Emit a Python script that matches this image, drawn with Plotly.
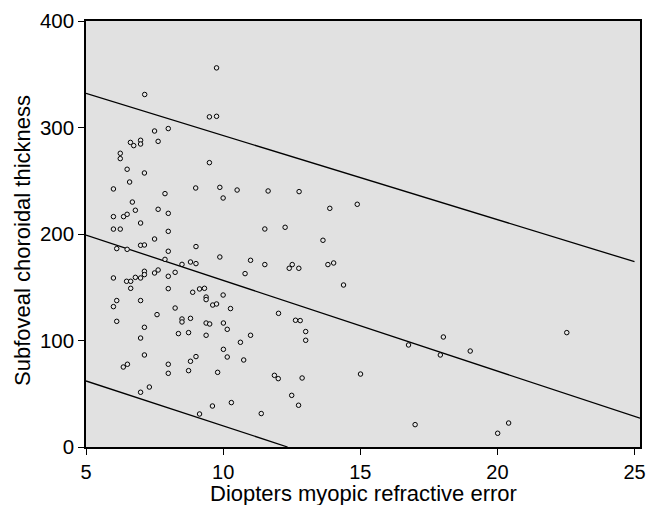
import plotly.graph_objects as go

# Scatter data: (diopters, thickness)
diopters = [
    7.14, 9.76, 9.5, 9.76, 7.5, 8.0, 7.63, 6.62, 6.74, 6.99, 6.99, 6.25, 6.25, 6.5, 7.13, 9.5,
    6.59, 6.0, 9.0, 9.88, 10.51, 10.0, 7.88, 6.69, 7.63, 6.8, 6.0, 6.37, 6.5, 8.0, 6.99, 6.0, 6.25,
    8.0, 7.5, 6.99, 7.13, 6.12, 6.5, 9.01, 8.0, 9.88, 11.0, 7.88, 7.63, 7.5, 8.5, 8.81, 9.01, 10.8,
    7.13, 7.13, 6.8, 6.99, 6.0, 6.48, 6.63, 8.0, 8.25, 6.63, 8.0, 8.89, 9.14, 9.32, 9.38, 9.38, 10.0,
    9.62, 9.76, 10.27, 6.12, 6.99, 6.0, 8.25, 7.59, 6.12, 8.5, 8.5, 8.81, 9.38, 9.51, 10.01, 10.15,
    7.13, 8.37, 8.74, 9.38, 11.0, 6.99, 10.63, 10.01, 10.15, 10.75, 7.13, 9.01, 8.81, 8.0, 8.0, 8.74,
    9.8, 6.36, 6.51, 7.31, 6.99, 10.3, 9.61, 9.14, 11.39,
    11.64, 12.77, 13.89, 14.89, 11.52, 12.26, 13.64, 11.52, 12.41, 12.52, 12.76, 13.82, 14.03, 14.39,
    12.02, 12.64, 12.81, 13.01, 13.01, 16.76, 18.03, 17.92, 19.01, 22.53, 11.87, 12.01, 12.88, 15.01,
    12.5, 12.75, 17.0, 20.41, 20.01,
]
thickness = [
    331, 356, 310, 310.5, 296.7, 299, 287, 286, 283, 288, 284.5, 275.8, 270.8, 260.8, 257.3, 267,
    248.8, 242.3, 243.2, 243.8, 241.3, 233.8, 237.9, 230, 223.2, 222.3, 216.3, 216.3, 218.5, 219.4, 210.3, 204.6, 204.6,
    202.5, 195.3, 189.4, 189.7, 186.3, 185.6, 188.2, 183.8, 178.4, 175.3, 176.2, 166.2, 163.4, 171.5, 173.7, 172.2, 162.8,
    165, 161.9, 159.3, 158.7, 158.7, 155.6, 155.6, 160.3, 164, 149, 148.7, 145.3, 148.4, 149, 140.8, 138.4, 142.7,
    133.3, 134.3, 130, 137.5, 137.5, 131.8, 130.5, 124.3, 118, 120.2, 117.4, 120.8, 116.4, 115.5, 116.4, 110.5,
    112.4, 106.5, 107.4, 104.9, 104.9, 102.3, 98.3, 91.7, 84.5, 81.7, 86.4, 84.9, 80.5, 77.7, 69.2, 71.7,
    70.1, 75.1, 77.7, 56.3, 51.4, 41.7, 38.5, 31, 31.4,
    240.4, 239.8, 224.1, 227.9, 204.7, 206.3, 194.1, 171.3, 167.8, 171.3, 167.8, 171.3, 172.8, 152.1,
    125.5, 119, 118.7, 108.4, 100.2, 95.8, 103.3, 86.4, 90.1, 107.4, 67.3, 64.2, 64.8, 68.5,
    48.5, 39.2, 21, 22.5, 12.9,
]

# Reference lines (endpoints)
upper_x = [5, 25]
upper_y = [332, 174]
mid_x = [5, 25.2]
mid_y = [199, 27]
lower_x = [5, 12.35]
lower_y = [62, 0]

x_ticks = [5, 10, 15, 20, 25]
y_ticks = [0, 100, 200, 300, 400]

x_title = "Diopters myopic refractive error"
y_title = "Subfoveal choroidal thickness"

FONT = "Liberation Sans, Arial, Helvetica, sans-serif"

fig = go.Figure()
for lx, ly in [(upper_x, upper_y), (mid_x, mid_y), (lower_x, lower_y)]:
    fig.add_trace(go.Scatter(x=lx, y=ly, mode="lines",
                             line=dict(color="black", width=1.3),
                             hoverinfo="skip", showlegend=False))

fig.add_trace(go.Scatter(
    x=diopters, y=thickness, mode="markers",
    marker=dict(symbol="circle", size=4.5, color="#e6e6e6",
                line=dict(color="black", width=1)),
    showlegend=False,
))

fig.update_layout(
    width=646, height=505,
    margin=dict(l=86, r=6, t=21, b=58),
    paper_bgcolor="white",
    plot_bgcolor="#e1e1e1",
    font=dict(family=FONT, size=20, color="black"),
)
fig.update_xaxes(
    range=[5, 25.2], tickvals=x_ticks, ticks="outside", ticklen=6, tickwidth=1.3,
    tickcolor="black", showgrid=False, zeroline=False, automargin=False,
    showline=True, linecolor="black", linewidth=1.5, mirror=True,
    tickfont=dict(size=20),
)
fig.update_yaxes(
    range=[0, 400], tickvals=y_ticks, ticks="outside", ticklen=6, tickwidth=1.3,
    tickcolor="black", showgrid=False, zeroline=False, automargin=False,
    showline=True, linecolor="black", linewidth=1.5, mirror=True,
    tickfont=dict(size=20.5),
)

fig.add_annotation(text=x_title, xref="paper", yref="paper", x=0.5, y=0,
                   yshift=-46, yanchor="middle", showarrow=False, borderpad=0,
                   font=dict(size=22))
fig.add_annotation(text=y_title, xref="paper", yref="paper", x=0, y=0.5,
                   xshift=-64, yshift=-7, textangle=-90, xanchor="center",
                   showarrow=False, font=dict(size=22))

fig.write_html(
    "out.html",
    config={"displayModeBar": False},
    post_script="document.body.style.margin='0';document.body.style.overflow='hidden';",
)
